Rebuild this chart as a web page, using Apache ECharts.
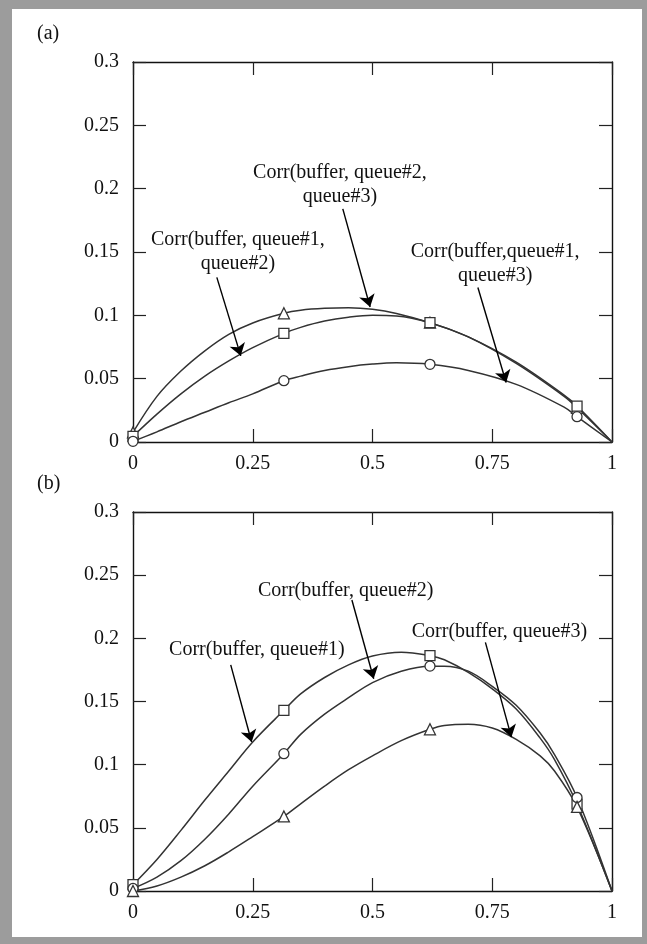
<!DOCTYPE html>
<html>
<head>
<meta charset="utf-8">
<script src="https://cdn.jsdelivr.net/npm/echarts@6/dist/echarts.min.js"></script>
<style>
  html, body { margin: 0; padding: 0; background: #9c9c9c; }
  #paper { position: absolute; left: 12px; top: 9px; width: 630px; height: 928px; background: #ffffff; }
  #chart { position: absolute; left: 0; top: 0; width: 647px; height: 944px; }
</style>
</head>
<body>
<div id="paper"></div>
<div id="chart"></div>
<script>
// ---------- data ----------
const xTickValues = [0, 0.25, 0.5, 0.75, 1];
const yTickValues = [0, 0.05, 0.1, 0.15, 0.2, 0.25, 0.3];

// panel (a): curves
const aCurveX   = [0, 0.05, 0.1, 0.15, 0.2, 0.25, 0.315, 0.35, 0.4, 0.45, 0.5, 0.55, 0.62, 0.7, 0.8, 0.9, 0.927, 1];
const aTriCurve = [0.0076, 0.036, 0.056, 0.072, 0.085, 0.094, 0.1016, 0.104, 0.1055, 0.106, 0.1048, 0.1015, 0.0942, 0.083, 0.062, 0.036, 0.027, 0];
const aSqCurve  = [0.0045, 0.022, 0.038, 0.052, 0.064, 0.0745, 0.0858, 0.0905, 0.0955, 0.0985, 0.1, 0.0995, 0.0942, 0.083, 0.063, 0.037, 0.0284, 0];
const aCirCurve = [0.0005, 0.008, 0.016, 0.0235, 0.031, 0.038, 0.0484, 0.052, 0.0565, 0.0595, 0.0615, 0.0625, 0.0613, 0.0565, 0.0455, 0.0275, 0.02, 0];
// panel (a): markers
const aMarkX    = [0, 0.315, 0.62, 0.927];
const aTriMark  = [0.0076, 0.1016, 0.0942, 0.027];
const aSqMark   = [0.0045, 0.0858, 0.0942, 0.0284];
const aCirMark  = [0.0005, 0.0484, 0.0613, 0.020];

// panel (b): curves
const bCurveX   = [0, 0.05, 0.1, 0.15, 0.2, 0.25, 0.315, 0.35, 0.4, 0.45, 0.5, 0.56, 0.62, 0.65, 0.7, 0.75, 0.8, 0.85, 0.88, 0.927, 1];
const bSqCurve  = [0.005, 0.025, 0.048, 0.072, 0.095, 0.118, 0.143, 0.156, 0.169, 0.179, 0.186, 0.189, 0.1863, 0.183, 0.173, 0.16, 0.144, 0.121, 0.104, 0.0687, 0];
const bCirCurve = [0.002, 0.011, 0.024, 0.041, 0.061, 0.083, 0.1087, 0.124, 0.14, 0.153, 0.165, 0.174, 0.178, 0.178, 0.174, 0.162, 0.147, 0.125, 0.108, 0.074, 0];
const bTriCurve = [0, 0.004, 0.011, 0.02, 0.031, 0.043, 0.059, 0.069, 0.083, 0.096, 0.107, 0.119, 0.128, 0.131, 0.132, 0.129, 0.12, 0.107, 0.095, 0.0666, 0];
// panel (b): markers
const bMarkX    = [0, 0.315, 0.62, 0.927];
const bSqMark   = [0.005, 0.143, 0.1863, 0.0687];
const bCirMark  = [0.002, 0.1087, 0.178, 0.074];
const bTriMark  = [0, 0.059, 0.128, 0.0666];

// annotations: text, text centre [x,y], arrow from [x,y] to [x,y] (data units)
const aLabels = ['Corr(buffer, queue#1,\nqueue#2)', 'Corr(buffer, queue#2,\nqueue#3)', 'Corr(buffer,queue#1,\nqueue#3)'];
const aLabelPos = [[0.219, 0.150], [0.432, 0.203], [0.756, 0.141]];
const aArrowFrom = [[0.175, 0.130], [0.438, 0.184], [0.720, 0.122]];
const aArrowTo   = [[0.225, 0.068], [0.495, 0.1066], [0.779, 0.047]];

const bLabels = ['Corr(buffer, queue#1)', 'Corr(buffer, queue#2)', 'Corr(buffer, queue#3)'];
const bLabelPos = [[0.2585, 0.1908], [0.444, 0.2376], [0.765, 0.2053]];
const bArrowFrom = [[0.204, 0.179], [0.457, 0.2303], [0.7357, 0.1968]];
const bArrowTo   = [[0.2477, 0.1179], [0.5025, 0.168], [0.790, 0.1218]];

// ---------- helpers ----------
const FONT = 'Liberation Serif';
const zip = (xs, ys) => xs.map((x, i) => [x, ys[i]]);

function xAxes(gi) {
  const common = {
    type: 'value', gridIndex: gi, min: xTickValues[0], max: xTickValues[xTickValues.length - 1], interval: 0.25,
    axisLine: { show: true, onZero: false, lineStyle: { color: '#111', width: 1.4 } },
    axisTick: { show: true, inside: true, length: 13, lineStyle: { color: '#222', width: 1.2 } },
    splitLine: { show: false }
  };
  return [
    Object.assign({}, common, { position: 'bottom',
      axisLabel: { show: true, margin: 12, fontFamily: FONT, fontSize: 20, color: '#111',
        formatter: v => (xTickValues.includes(v) ? String(v) : '') } }),
    Object.assign({}, common, { position: 'top', axisLabel: { show: false } })
  ];
}
function yAxes(gi) {
  const common = {
    type: 'value', gridIndex: gi, min: yTickValues[0], max: yTickValues[yTickValues.length - 1], interval: 0.05,
    axisLine: { show: true, onZero: false, lineStyle: { color: '#111', width: 1.4 } },
    axisTick: { show: true, inside: true, length: 13, lineStyle: { color: '#222', width: 1.2 } },
    splitLine: { show: false }
  };
  return [
    Object.assign({}, common, { position: 'left',
      axisLabel: { show: true, margin: 14, fontFamily: FONT, fontSize: 20, color: '#111',
        formatter: v => { const r = Math.round(v * 100) / 100; return String(r); } } }),
    Object.assign({}, common, { position: 'right', axisLabel: { show: false } })
  ];
}

function curve(xs, ys, xi, yi) {
  return { type: 'line', xAxisIndex: xi, yAxisIndex: yi, data: zip(xs, ys), smooth: 0.35,
    showSymbol: false, symbol: 'none', lineStyle: { color: '#333', width: 1.5 }, z: 2, silent: true };
}
function marks(xs, ys, sym, size, xi, yi) {
  return { type: 'scatter', xAxisIndex: xi, yAxisIndex: yi, data: zip(xs, ys), symbol: sym, symbolSize: size,
    itemStyle: { color: '#ffffff', borderColor: '#333', borderWidth: 1.3, opacity: 1 }, z: 4, silent: true };
}
function annotations(labels, pos, from, to, xi, yi) {
  return {
    type: 'line', xAxisIndex: xi, yAxisIndex: yi, data: [], silent: true, z: 5,
    markLine: {
      silent: true, animation: false,
      symbol: ['none', 'arrow'], symbolSize: 12,
      lineStyle: { color: '#000', width: 1.4, type: 'solid' },
      label: { show: false },
      data: from.map((f, i) => [{ coord: f }, { coord: to[i] }])
    },
    markPoint: {
      silent: true, animation: false,
      symbol: 'circle', symbolSize: 1, itemStyle: { color: 'rgba(0,0,0,0)' },
      label: { show: true, position: 'inside', fontFamily: FONT, fontSize: 20, lineHeight: 24,
        color: '#111', align: 'center', verticalAlign: 'middle' },
      data: labels.map((t, i) => ({ coord: pos[i], label: { formatter: t } }))
    }
  };
}

const chart = echarts.init(document.getElementById('chart'), null, { renderer: 'canvas' });
chart.setOption({
  animation: false,
  backgroundColor: 'transparent',
  grid: [
    { left: 133, top: 62, width: 479, height: 380 },
    { left: 133, top: 512, width: 479, height: 379 }
  ],
  xAxis: [...xAxes(0), ...xAxes(1)],
  yAxis: [...yAxes(0), ...yAxes(1)],
  graphic: [
    { type: 'text', left: 37, top: 24, style: { text: '(a)', font: '20px "Liberation Serif"', fill: '#111' } },
    { type: 'text', left: 37, top: 474, style: { text: '(b)', font: '20px "Liberation Serif"', fill: '#111' } }
  ],
  series: [
    curve(aCurveX, aTriCurve, 0, 0),
    curve(aCurveX, aSqCurve, 0, 0),
    curve(aCurveX, aCirCurve, 0, 0),
    marks(aMarkX, aTriMark, 'triangle', 11, 0, 0),
    marks(aMarkX, aSqMark, 'rect', 10, 0, 0),
    marks(aMarkX, aCirMark, 'circle', 10, 0, 0),
    annotations(aLabels, aLabelPos, aArrowFrom, aArrowTo, 0, 0),

    curve(bCurveX, bSqCurve, 2, 2),
    curve(bCurveX, bCirCurve, 2, 2),
    curve(bCurveX, bTriCurve, 2, 2),
    marks(bMarkX, bSqMark, 'rect', 10, 2, 2),
    marks(bMarkX, bCirMark, 'circle', 10, 2, 2),
    marks(bMarkX, bTriMark, 'triangle', 11, 2, 2),
    annotations(bLabels, bLabelPos, bArrowFrom, bArrowTo, 2, 2)
  ]
});
</script>
</body>
</html>
